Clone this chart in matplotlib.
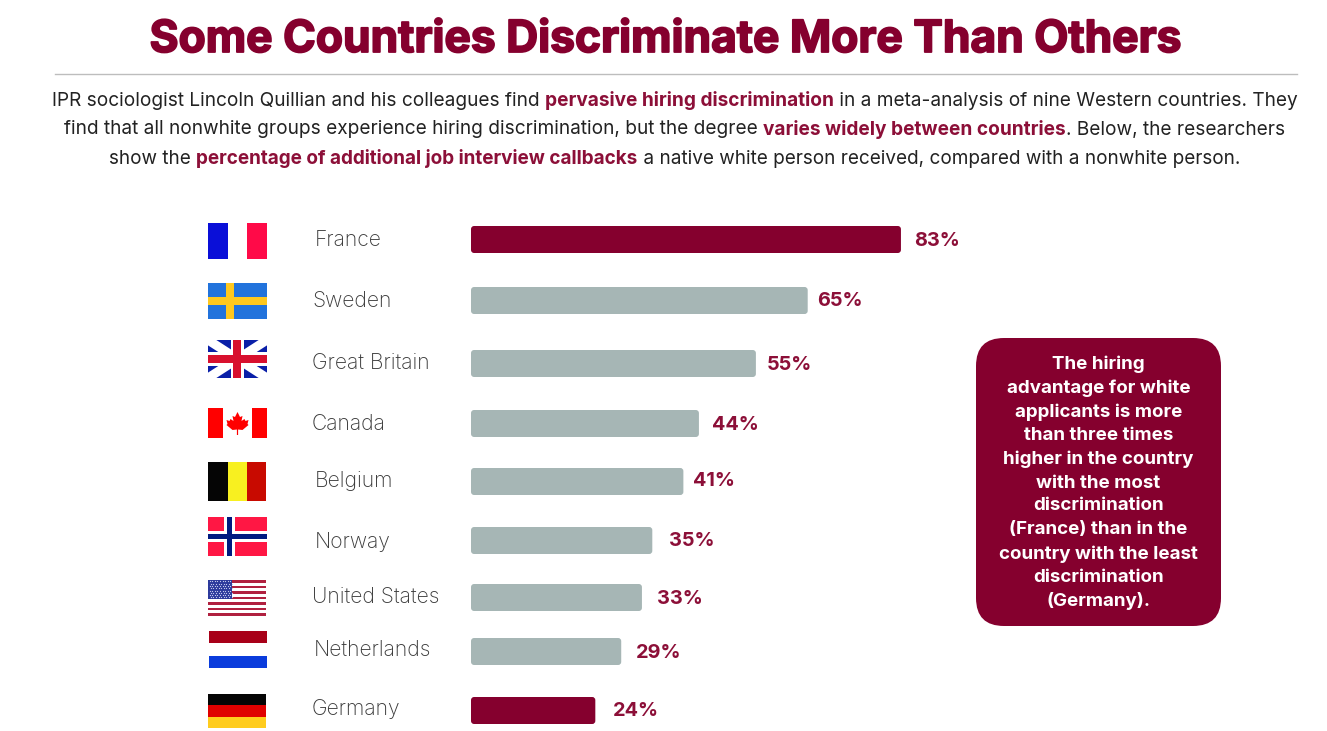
import matplotlib
matplotlib.use("Agg")
import matplotlib.pyplot as plt
import matplotlib.patheffects as pe
from matplotlib.patches import FancyBboxPatch, Polygon, Rectangle

plt.rcParams["font.family"] = ["Inter", "Lato", "DejaVu Sans"]

# data
countries = ["France", "Sweden", "Great Britain", "Canada", "Belgium", "Norway",
             "United States", "Netherlands", "Germany"]
values = [83, 65, 55, 44, 41, 35, 33, 29, 24]
highlighted = ["France", "Germany"]

title = "Some Countries Discriminate More Than Others"
intro = [
    [("IPR sociologist Lincoln Quillian and his colleagues find ", False),
     ("pervasive hiring discrimination", True),
     (" in a meta-analysis of nine Western countries. They", False)],
    [("find that all nonwhite groups experience hiring discrimination, but the degree ", False),
     ("varies widely between countries", True),
     (". Below, the researchers", False)],
    [("show the ", False),
     ("percentage of additional job interview callbacks", True),
     (" a native white person received, compared with a nonwhite person.", False)],
]
callout = ["The hiring", "advantage for white", "applicants is more", "than three times",
           "higher in the country", "with the most", "discrimination",
           "(France) than in the", "country with the least", "discrimination", "(Germany)."]

# layout, in reference pixels
W, H = 1327, 731
PX_PER_PCT = 5.18
row_y = [239.5, 300.5, 363.5, 423.5, 481.5, 540.5, 597.5, 651.5, 710.5]
name_x = [315, 312, 312, 312, 315, 315, 312, 314, 312]
name_y = [240, 301, 363, 424, 481, 542, 597, 650, 709]
val_x = [914, 817, 767, 712, 693, 669, 657, 636, 613]
val_y = [240.5, 301.5, 364.5, 424.5, 481.5, 541.5, 598.5, 652.5, 710.5]

CRIMSON = "#85002E"
TEXT_RED = "#8C0F38"
GREY = "#A6B6B5"
DARK = "#3A3A3A"

fig = plt.figure(figsize=(W / 100, H / 100), dpi=100, facecolor="white")
page = fig.add_axes([0, 0, 1, 1])
page.set_xlim(0, W)
page.set_ylim(H, 0)
page.axis("off")

# bars get their own axes so width comes from the percent scale
bar_ax = fig.add_axes([471 / W, 0, 517 / W, 1])
bar_ax.set_xlim(0, 517 / PX_PER_PCT)
bar_ax.set_ylim(H, 0)
bar_ax.axis("off")


def rect(x0, y0, x1, y1, color, **kw):
    page.add_patch(Rectangle((x0, y0), x1 - x0, y1 - y0, fc=color, ec="none", **kw))


def text_width(s, **kw):
    r = fig.canvas.get_renderer()
    a = page.text(0, 0, s + "|", **kw)
    b = page.text(0, 0, "|", **kw)
    w = a.get_window_extent(r).width - b.get_window_extent(r).width
    a.remove()
    b.remove()
    return w


def rich_line(parts, cx, y, size):
    styles = [dict(fontsize=size, fontweight="bold" if bold else "normal") for _, bold in parts]
    widths = [text_width(s, **st) for (s, _), st in zip(parts, styles)]
    x = cx - sum(widths) / 2
    for (s, bold), st, w in zip(parts, styles, widths):
        page.text(x, y, s, color=TEXT_RED if bold else "#222222", va="center", ha="left", **st)
        x += w


def flag_france(y0, y1):
    rect(208, y0, 228, y1, "#0A0FD8")
    rect(247, y0, 267, y1, "#FF0A48")


def flag_sweden(y0, y1):
    rect(208, y0, 267, y1, "#2273DC")
    rect(226, y0, 234, y1, "#FFC81E")
    rect(208, y0 + 14, 267, y0 + 22, "#FFC81E")


def flag_britain(y0, y1):
    x0, x1 = 208, 267
    rect(x0, y0, x1, y1, "#0A1FA8")
    for a, b in [((x0, y0), (x1, y1)), ((x0, y1), (x1, y0))]:
        page.plot([a[0], b[0]], [a[1], b[1]], color="white", lw=6.5, solid_capstyle="butt")
    # diagonals poke past the flag, mask them
    rect(x0 - 6, y0 - 6, x1 + 6, y0, "white", zorder=2.5)
    rect(x0 - 6, y1, x1 + 6, y1 + 6, "white", zorder=2.5)
    rect(x0 - 6, y0, x0, y1, "white", zorder=2.5)
    rect(x1, y0, x1 + 6, y1, "white", zorder=2.5)
    rect(x0 + 23, y0, x0 + 36, y1, "white", zorder=3)
    rect(x0, y0 + 12, x1, y0 + 26, "white", zorder=3)
    rect(x0 + 25, y0, x0 + 33, y1, "#D8102E", zorder=4)
    rect(x0, y0 + 15, x1, y0 + 23, "#D8102E", zorder=4)


def flag_canada(y0, y1):
    rect(208, y0, 223, y1, "#FF0000")
    rect(252, y0, 267, y1, "#FF0000")
    cx, cy = 237.5, (y0 + y1) / 2
    leaf = [(0, -11), (2.5, -6), (5, -7), (4, -2), (7, -4), (8, -2), (11, -3), (10, 1),
            (11, 2), (5, 7), (0.6, 6.5), (0.6, 12), (-0.6, 12), (-0.6, 6.5), (-5, 7),
            (-11, 2), (-10, 1), (-11, -3), (-8, -2), (-7, -4), (-4, -2), (-5, -7), (-2.5, -6)]
    page.add_patch(Polygon([(cx + a, cy + b) for a, b in leaf], fc="#FF0000", ec="none"))


def flag_belgium(y0, y1):
    rect(208, y0, 228, y1, "#050505")
    rect(228, y0, 247, y1, "#F8F020")
    rect(247, y0, 266, y1, "#C80A00")


def flag_norway(y0, y1):
    rect(208, y0, 267, y1, "#FF1744")
    rect(224, y0, 235, y1, "white")
    rect(208, y0 + 14, 267, y0 + 25, "white")
    rect(227, y0, 232, y1, "#001A80")
    rect(208, y0 + 17, 267, y0 + 22, "#001A80")


def flag_usa(y0, y1):
    n = 13
    h = (y1 - y0) / n
    for i in range(n):
        rect(208, y0 + i * h, 266, y0 + (i + 1) * h, "#B0203F" if i % 2 == 0 else "white")
    rect(208, y0, 232, y0 + 7 * h, "#2C3A9C", zorder=3)
    xs, ys = [], []
    for r in range(8):
        for c in range(9):
            xs.append(209.5 + c * 2.6 + (r % 2) * 1.3)
            ys.append(y0 + 1.3 + r * 2.3)
    page.scatter(xs, ys, s=0.8, c="#C8CCF0", linewidths=0, zorder=4)


def flag_netherlands(y0, y1):
    rect(209, y0, 267, y0 + 12, "#A80018")
    rect(209, y1 - 12, 267, y1, "#0A3CDC")


def flag_germany(y0, y1):
    third = (y1 - y0) / 3
    rect(208, y0, 266, y0 + third, "#050505")
    rect(208, y0 + third, 266, y0 + 2 * third, "#E00000")
    rect(208, y0 + 2 * third, 266, y1, "#FFCC1E")


flags = [(flag_france, 223, 259), (flag_sweden, 283, 319), (flag_britain, 340, 378),
         (flag_canada, 408, 438), (flag_belgium, 462, 501), (flag_norway, 517, 556),
         (flag_usa, 580, 616), (flag_netherlands, 631, 668), (flag_germany, 694, 728)]

# header
page.text(665, 40, title, ha="center", va="center", fontsize=31.9, fontweight="bold",
          color=CRIMSON, path_effects=[pe.withStroke(linewidth=1.3, foreground=CRIMSON)])
page.plot([55, 1297], [74, 74], color="#BDBDBD", lw=1)
for parts, y, size in zip(intro, [100.5, 129.5, 158.5], [13.73, 13.72, 13.63]):
    rich_line(parts, 674.5, y, size)

# rows
for i, name in enumerate(countries):
    fn, y0, y1 = flags[i]
    fn(y0, y1)
    page.text(name_x[i], name_y[i], name, ha="left", va="center", fontsize=15.2,
              fontweight="light", color=DARK)
    color = CRIMSON if name in highlighted else GREY
    bar_ax.add_patch(FancyBboxPatch((0, row_y[i] - 13.5), values[i], 27,
                                    boxstyle="round,pad=0,rounding_size=0.6",
                                    mutation_aspect=PX_PER_PCT, fc=color, ec="none"))
    page.text(val_x[i], val_y[i], f"{values[i]}%", ha="left", va="center", fontsize=14.3,
              fontweight="bold", color=TEXT_RED)

# callout
page.add_patch(FancyBboxPatch((976, 338), 245, 288, boxstyle="round,pad=0,rounding_size=28",
                              fc=CRIMSON, ec="none"))
callout_y = [364, 388, 412, 435, 459, 483, 506, 530, 554, 578, 601]
for line, y in zip(callout, callout_y):
    page.text(1098.5, y, line, ha="center", va="center", fontsize=13.5, fontweight="bold", color="white")

fig.savefig("out.png", dpi=100, facecolor="white")
